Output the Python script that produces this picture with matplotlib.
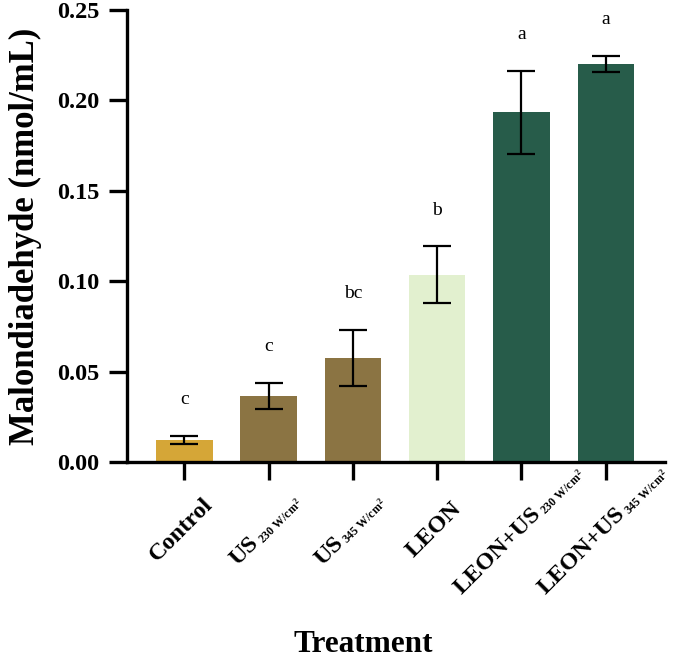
import matplotlib

matplotlib.use("Agg")
import matplotlib.pyplot as plt
import numpy as np

plt.rcParams.update(
    {
        "font.family": "Liberation Serif",
        "font.weight": "bold",
        "mathtext.fontset": "custom",
        "mathtext.rm": "Liberation Serif:bold",
        "mathtext.bf": "Liberation Serif:bold",
        "mathtext.it": "Liberation Serif:bold",
    }
)

# data
cat_main = ["Control", "US", "US", "LEON", "LEON+US", "LEON+US"]
cat_sub = ["", r"$\mathrm{230\ W/cm^2}$", r"$\mathrm{345\ W/cm^2}$", "",
           r"$\mathrm{230\ W/cm^2}$", r"$\mathrm{345\ W/cm^2}$"]
means = [0.0123, 0.0365, 0.0576, 0.1035, 0.1933, 0.2201]
errors = [0.0021, 0.0072, 0.0155, 0.0158, 0.0230, 0.0045]
letters = ["c", "c", "bc", "b", "a", "a"]
colors = ["#D5A637", "#8B7443", "#8B7443", "#E2F0CF", "#275C4A", "#275C4A"]

W, H, DPI = 679, 662, 100
fig = plt.figure(figsize=(W / DPI, H / DPI), dpi=DPI)
ax = fig.add_axes([0.187, 0.302, 0.792, 0.683])

x = np.arange(len(cat_main))
ax.bar(x, means, width=0.67, color=colors, edgecolor="none", zorder=2)
ax.errorbar(
    x, means, yerr=errors, fmt="none", ecolor="black",
    elinewidth=1.6, capsize=10, capthick=1.6, zorder=3,
)
for xi, m, e, lab in zip(x, means, errors, letters):
    ax.text(xi, m + e + 0.020, lab, ha="center", va="center",
            fontsize=14, fontweight="normal")

ax.set_xlim(-0.68, 5.7)
ax.set_ylim(0, 0.25)
ax.set_yticks([0.0, 0.05, 0.10, 0.15, 0.20, 0.25])
ax.set_yticklabels([f"{v:.2f}" for v in ax.get_yticks()], fontsize=17.5, fontweight="bold")
ax.set_xticks(x)
ax.set_xticklabels([])

for side in ("top", "right"):
    ax.spines[side].set_visible(False)
for side in ("left", "bottom"):
    ax.spines[side].set_linewidth(2.4)
ax.tick_params(axis="both", length=13, width=2.4)
ax.tick_params(axis="y", pad=7)

ax.set_ylabel("Malondiadehyde (nmol/mL)", fontsize=25, fontweight="bold")
ax.yaxis.set_label_coords(-0.158, 0.5)
fig.text(0.535, 0.026, "Treatment", ha="center", va="center", fontsize=22.5, fontweight="bold")

# rotated category labels: big main text + small subscript, centred under the tick
main_fs, sub_fs = 17.5, 8.5
em = main_fs * DPI / 72
cos = sin = np.sqrt(0.5)
renderer = fig.canvas.get_renderer()
center_y = H - 533
for xi, main, sub in zip(x, cat_main, cat_sub):
    t1 = fig.text(0, 0, main, fontsize=main_fs, fontweight="bold")
    w1 = t1.get_window_extent(renderer).width
    w2, gap = 0.0, 0.0
    t2 = None
    if sub:
        t2 = fig.text(0, 0, sub, fontsize=sub_fs)
        w2 = t2.get_window_extent(renderer).width
        gap = 2.0
    length = w1 + gap + w2
    cx, cy = length / 2, 0.34 * em - 7
    px = ax.transData.transform((xi, 0))[0]
    sx = px - (cx * cos - cy * sin)
    sy = center_y - (cx * sin + cy * cos)
    t1.set_position((sx / W, sy / H))
    t1.set_rotation(45)
    t1.set_rotation_mode("anchor")
    t1.set_va("baseline")
    if t2 is not None:
        drop = 0.12 * em
        ox = sx + (w1 + gap) * cos + drop * sin
        oy = sy + (w1 + gap) * sin - drop * cos
        t2.set_position((ox / W, oy / H))
        t2.set_rotation(45)
        t2.set_rotation_mode("anchor")
        t2.set_va("baseline")

fig.savefig("out.png", dpi=DPI)
